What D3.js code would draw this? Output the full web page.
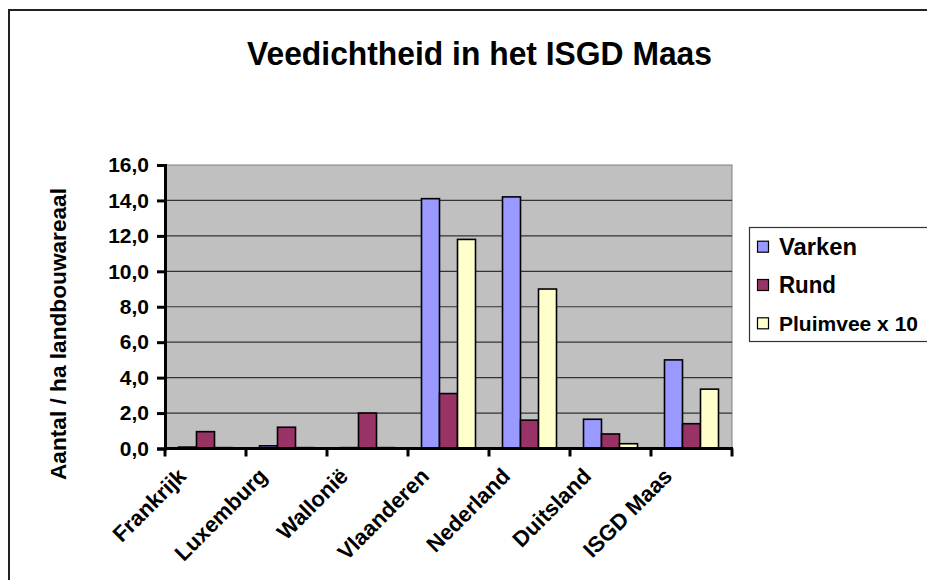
<!DOCTYPE html>
<html><head><meta charset="utf-8">
<script src="https://cdnjs.cloudflare.com/ajax/libs/d3/7.8.5/d3.min.js"></script>
<style>body{margin:0;background:#fff}svg{display:block;font-family:"Liberation Sans",Arial,sans-serif;font-weight:bold}</style>
</head><body><svg id="c" width="927" height="580"></svg>
<script>
const categories = ["Frankrijk","Luxemburg","Wallonië","Vlaanderen","Nederland","Duitsland","ISGD Maas"];
const seriesNames = ["Varken","Rund","Pluimvee x 10"];
const varken   = [0.08, 0.15, 0.05, 14.1, 14.2, 1.65, 5.0];
const rund     = [0.95, 1.2, 2.0, 3.1, 1.6, 0.82, 1.4];
const pluimvee = [0.05, 0.05, 0.05, 11.8, 9.0, 0.27, 3.35];
const yTicks = [0,2,4,6,8,10,12,14,16];
const colors = ["#9999FF","#993366","#FFFFCC"];
const title = "Veedichtheid in het ISGD Maas";
const yLabel = "Aantal / ha landbouwareaal";

const seriesVals = [varken, rund, pluimvee];
const svg = d3.select("#c");
const L = 165, R = 732, T = 165, B = 448.5;

svg.append("rect").attr("x",9).attr("y",10).attr("width",940).attr("height",600)
  .attr("fill","#fff").attr("stroke","#222").attr("stroke-width",2);

svg.append("text").attr("x",479.5).attr("y",65).attr("text-anchor","middle")
  .attr("font-size",33).attr("textLength",465).attr("lengthAdjust","spacingAndGlyphs").text(title);

const x = d3.scaleBand().domain(categories).range([L,R]);
const x1 = d3.scaleBand().domain(seriesNames).range([0,x.bandwidth()]).paddingInner(0).paddingOuter(0.75);
const y = d3.scaleLinear().domain([0,16]).range([B,T]);

svg.append("rect").attr("x",L).attr("y",T).attr("width",R-L).attr("height",B-T)
  .attr("fill","#C0C0C0").attr("stroke","#808080").attr("stroke-width",1);

svg.append("g").selectAll("line").data(yTicks.filter(d=>d>0 && d<16)).join("line")
  .attr("x1",L).attr("x2",R).attr("y1",d=>y(d)).attr("y2",d=>y(d))
  .attr("stroke","#333").attr("stroke-width",1.2);

const data = [];
categories.forEach((c,i)=>seriesNames.forEach((s,j)=>data.push({c,s,v:seriesVals[j][i],j})));
svg.append("g").selectAll("rect").data(data).join("rect")
  .attr("x",d=>x(d.c)+x1(d.s)).attr("width",x1.bandwidth())
  .attr("y",d=>y(d.v)).attr("height",d=>B-y(d.v))
  .attr("fill",d=>colors[d.j]).attr("stroke","#000").attr("stroke-width",1.6);

// y axis
const ya = svg.append("g").attr("transform",`translate(${L},0)`)
  .call(d3.axisLeft(y).tickValues(yTicks).tickSize(8).tickPadding(8)
    .tickFormat(d=>d3.format(".1f")(d).replace(".",",")));
ya.select(".domain").attr("stroke","#000").attr("stroke-width",3);
ya.selectAll(".tick line").attr("stroke","#000").attr("stroke-width",3);
ya.selectAll("text").attr("font-size",21).attr("font-family","Liberation Sans, Arial").attr("font-weight","bold").attr("fill","#000");

// x axis
const xa = svg.append("g").attr("transform",`translate(0,${B})`);
xa.append("line").attr("x1",L-1).attr("x2",R+1).attr("stroke","#000").attr("stroke-width",3);
xa.selectAll("line.t").data(categories.map(c=>x(c)).concat([R])).join("line").attr("class","t")
  .attr("x1",d=>d).attr("x2",d=>d).attr("y1",0).attr("y2",8).attr("stroke","#000").attr("stroke-width",3);
xa.selectAll("text").data(categories).join("text")
  .attr("transform",c=>`translate(${x(c)+x.bandwidth()/2-18},29) rotate(-45)`)
  .attr("text-anchor","end").attr("font-size",22).text(c=>c);

svg.append("text").attr("transform","translate(66,334) rotate(-90)").attr("text-anchor","middle")
  .attr("font-size",22).attr("textLength",292).attr("lengthAdjust","spacingAndGlyphs").text(yLabel);

// legend
const lg = svg.append("g");
lg.append("rect").attr("x",749.5).attr("y",227.5).attr("width",200).attr("height",114)
  .attr("fill","#fff").attr("stroke","#333").attr("stroke-width",1.2);
const ly = [246.7,285,323.3];
const lw = [78, 57, 139];
const lf = [23, 23, 21];
seriesNames.forEach((s,j)=>{
  lg.append("rect").attr("x",757.5).attr("y",ly[j]-5.5).attr("width",11).attr("height",11)
    .attr("fill",colors[j]).attr("stroke","#000").attr("stroke-width",1.2);
  lg.append("text").attr("x",779).attr("y",ly[j]+8).attr("font-size",lf[j])
    .attr("textLength",lw[j]).attr("lengthAdjust","spacingAndGlyphs").text(s);
});
</script></body></html>
